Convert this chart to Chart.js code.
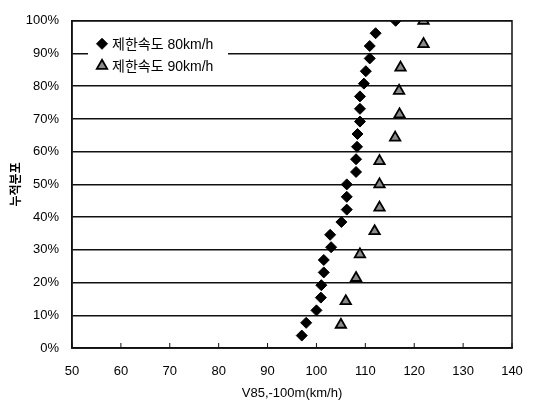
<!DOCTYPE html>
<html>
<head>
<meta charset="utf-8">
<script src="https://cdn.jsdelivr.net/npm/chart.js@4"></script>
<style>
html, body { margin: 0; background: #fff; }
#wrap { width: 538px; height: 401px; }
</style>
</head>
<body>
<div id="wrap"><canvas id="chart"></canvas></div>
<script>
// 제한속도 80km/h
const speed80 = [97.0, 97.9, 100.0, 100.9, 101.0, 101.5, 101.5, 103.0, 102.8, 105.1, 106.2, 106.2, 106.2, 108.1, 108.1, 108.3, 108.4, 108.9, 108.9, 108.9, 109.7, 110.1, 110.9, 110.9, 112.1, 116.2];
const cum80 = [3.8, 7.7, 11.5, 15.4, 19.2, 23.1, 26.9, 30.8, 34.6, 38.5, 42.3, 46.2, 50.0, 53.8, 57.7, 61.5, 65.4, 69.2, 73.1, 76.9, 80.8, 84.6, 88.5, 92.3, 96.2, 100];
// 제한속도 90km/h
const speed90 = [105.0, 106.0, 108.1, 108.9, 111.9, 112.9, 112.9, 112.9, 116.1, 117.0, 116.9, 117.2, 121.9, 121.9];
const cum90 = [7.1, 14.3, 21.4, 28.6, 35.7, 42.9, 50.0, 57.1, 64.3, 71.4, 78.6, 85.7, 92.9, 100];

const labels = ['제한속도 80km/h', '제한속도 90km/h'];
const xTitle = 'V85,-100m(km/h)';
const yTitle = '누적분포';

const FONT = "'Liberation Sans', 'Noto Sans CJK KR', sans-serif";

const toPoints = (xs, ys) => xs.map((x, i) => ({ x: x, y: ys[i] }));

// frame, inward x ticks and the boxed legend inside the plot
const decor = {
    id: 'decor',
    afterDraw(chart) {
        const ctx = chart.ctx;
        const a = chart.chartArea;
        const xs = chart.scales.x;
        ctx.save();
        ctx.strokeStyle = '#111';
        ctx.lineWidth = 1.5;
        ctx.strokeRect(a.left, a.top, a.right - a.left, a.bottom - a.top);
        ctx.lineWidth = 1;
        xs.ticks.forEach(t => {
            const px = xs.getPixelForValue(t.value);
            ctx.beginPath();
            ctx.moveTo(px, a.bottom);
            ctx.lineTo(px, a.bottom - 5);
            ctx.stroke();
        });

        // legend
        ctx.fillStyle = '#fff';
        ctx.fillRect(a.left + 16, a.top + 13, 140, 42);
        ctx.font = '14px ' + FONT;
        ctx.textBaseline = 'middle';
        const rows = [a.top + 23, a.top + 45];
        chart.data.datasets.forEach((ds, i) => {
            ctx.fillStyle = ds.backgroundColor;
            ctx.strokeStyle = ds.borderColor;
            ctx.lineWidth = ds.borderWidth;
            Chart.helpers.drawPoint(ctx, {
                pointStyle: ds.pointStyle,
                radius: ds.pointRadius,
                borderWidth: ds.borderWidth
            }, a.left + 30, rows[i]);
            ctx.fillStyle = '#000';
            ctx.fillText(ds.label, a.left + 40, rows[i] + 1);
        });
        ctx.restore();
    }
};

new Chart('chart', {
    type: 'scatter',
    data: {
        datasets: [{
            label: labels[0],
            data: toPoints(speed80, cum80),
            pointStyle: 'rectRot',
            pointRadius: 5.5,
            backgroundColor: '#000',
            borderColor: '#000',
            borderWidth: 1
        }, {
            label: labels[1],
            data: toPoints(speed90, cum90),
            pointStyle: 'triangle',
            pointRadius: 6,
            backgroundColor: '#8a8a8a',
            borderColor: '#000',
            borderWidth: 1.8
        }]
    },
    plugins: [decor],
    options: {
        responsive: true,
        maintainAspectRatio: false,
        animation: false,
        layout: { padding: { left: 9, right: 26, top: 13, bottom: 0 } },
        plugins: {
            legend: false,
            tooltip: { enabled: false }
        },
        scales: {
            x: {
                type: 'linear',
                min: 50,
                max: 140,
                afterFit(scale) { scale.height = 53; },
                ticks: {
                    stepSize: 10,
                    color: '#000',
                    padding: 8,
                    maxRotation: 0,
                    font: { family: FONT, size: 13 }
                },
                grid: { display: false },
                border: { color: '#111', width: 1.5 },
                title: {
                    display: true,
                    text: xTitle,
                    color: '#000',
                    padding: { top: 2, bottom: 0 },
                    font: { family: FONT, size: 13 }
                }
            },
            y: {
                min: 0,
                max: 100,
                afterFit(scale) { scale.width = 63; },
                ticks: {
                    stepSize: 10,
                    color: '#000',
                    padding: 13,
                    font: { family: FONT, size: 13 },
                    callback: v => v + '%'
                },
                grid: { color: '#111', lineWidth: 1.5, drawTicks: false },
                border: { color: '#111', width: 1.5 },
                title: {
                    display: true,
                    text: yTitle,
                    color: '#000',
                    padding: { top: 0, bottom: 2 },
                    font: { family: FONT, size: 12, weight: 'bold' }
                }
            }
        }
    }
});
</script>
</body>
</html>
